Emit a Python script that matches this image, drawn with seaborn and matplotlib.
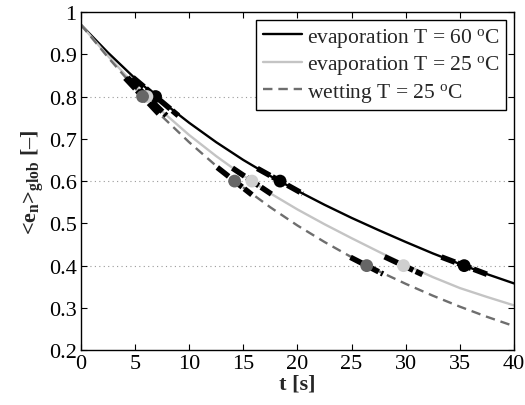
import numpy as np
import pandas as pd
import matplotlib
matplotlib.use("Agg")
import matplotlib.pyplot as plt
import seaborn as sns

# ---- data ----
t = [0, 2.5, 5, 7.5, 10, 12.5, 15, 17.5, 20, 22.5, 25, 27.5, 30, 32.5, 35, 37.5, 40]
evap60 = [0.970, 0.904, 0.843, 0.788, 0.738, 0.692, 0.650, 0.612, 0.577, 0.544, 0.513, 0.484, 0.456, 0.429, 0.404, 0.380, 0.358]
evap25 = [0.970, 0.896, 0.827, 0.765, 0.709, 0.659, 0.613, 0.571, 0.533, 0.498, 0.465, 0.433, 0.402, 0.373, 0.347, 0.326, 0.306]
wet25 = [0.970, 0.893, 0.820, 0.753, 0.692, 0.636, 0.585, 0.538, 0.495, 0.456, 0.420, 0.387, 0.357, 0.329, 0.303, 0.279, 0.257]

levels = [0.8, 0.6, 0.4]
tc_evap60 = [6.9, 18.4, 35.4]
tc_evap25 = [6.1, 15.8, 29.8]
tc_wet25 = [5.7, 14.2, 26.4]

labels = ["evaporation T = 60 $^{\\mathrm{o}}$C",
          "evaporation T = 25 $^{\\mathrm{o}}$C",
          "wetting T = 25 $^{\\mathrm{o}}$C"]
xticks = [0, 5, 10, 15, 20, 25, 30, 35, 40]
yticks = [0.2, 0.3, 0.4, 0.5, 0.6, 0.7, 0.8, 0.9, 1.0]
ytick_labels = ["0.2", "0.3", "0.4", "0.5", "0.6", "0.7", "0.8", "0.9", "1"]

# ---- style ----
sns.set_theme(style="ticks")
plt.rcParams["font.family"] = ["Liberation Serif", "DejaVu Serif"]
plt.rcParams["mathtext.fontset"] = "custom"
plt.rcParams["mathtext.rm"] = "Liberation Serif"
plt.rcParams["mathtext.bf"] = "Liberation Serif:bold"
plt.rcParams["mathtext.it"] = "Liberation Serif:italic"

fig = plt.figure(figsize=(5.25, 4.06), dpi=100)
ax = fig.add_axes([0.154, 0.135, 0.825, 0.833])

df = pd.DataFrame({"t": t, "e60": evap60, "e25": evap25, "w25": wet25})

col60, col25, colw = "#000000", "#c4c4c4", "#6e6e6e"
mk60, mk25, mkw = "#000000", "#cfcfcf", "#666666"

for lv in levels:
    ax.axhline(lv, color="#9a9a9a", lw=0.8, ls=(0, (1, 3)), zorder=0)

sns.lineplot(data=df, x="t", y="e60", ax=ax, color=col60, lw=1.7, label=labels[0])
sns.lineplot(data=df, x="t", y="e25", ax=ax, color=col25, lw=1.7, label=labels[1])
sns.lineplot(data=df, x="t", y="w25", ax=ax, color=colw, lw=1.7, label=labels[2])
ax.lines[-1].set_dashes((4, 2.5))

half_w = {"e60": [2.1, 2.1, 2.1], "e25": [1.8, 1.8, 1.75], "w25": [1.6, 1.6, 1.5]}
series = [("e60", evap60, tc_evap60, mk60),
          ("e25", evap25, tc_evap25, mk25),
          ("w25", wet25, tc_wet25, mkw)]
tarr = np.array(t, dtype=float)
for key, y, tcs, mcol in series:
    slope = np.gradient(np.array(y, dtype=float), tarr)
    for i, tc in enumerate(tcs):
        s = np.interp(tc, tarr, slope)
        lv = levels[i]
        hw = half_w[key][i]
        xs = np.array([tc - hw, tc + hw])
        ax.plot(xs, lv + s * (xs - tc), color="black", lw=4.0,
                ls=(0, (2.6, 0.5)), solid_capstyle="butt", zorder=4)
for key, y, tcs, mcol in series:
    sns.scatterplot(x=tcs, y=levels, ax=ax, color=mcol, s=85, edgecolor="none",
                    zorder=5, legend=False)

ax.set_xlim(0, 40)
ax.set_ylim(0.2, 1.0)
ax.set_xticks(xticks)
ax.set_xticklabels([str(v) for v in xticks])
ax.set_yticks(yticks)
ax.set_yticklabels(ytick_labels)
ax.tick_params(direction="in", length=4, width=0.8, labelsize=16, top=True, right=True,
               pad=3, colors="black")
for sp in ax.spines.values():
    sp.set_linewidth(1.0)
    sp.set_color("black")
    sp.set_visible(True)

ax.set_xlabel("t [s]", fontsize=16, fontweight="bold", labelpad=0)
ax.set_ylabel(r"<e$_\mathbf{n}$>$_\mathbf{glob}$ [–]", fontsize=16,
              fontweight="bold", labelpad=2)

leg = ax.legend(loc="upper right", fontsize=15.5, frameon=True, fancybox=False,
                edgecolor="black", framealpha=1, borderaxespad=0.35,
                handlelength=1.8, handletextpad=0.25, labelspacing=0.2,
                borderpad=0.3)
leg.get_frame().set_linewidth(1.0)

fig.savefig("out.png", dpi=100)
